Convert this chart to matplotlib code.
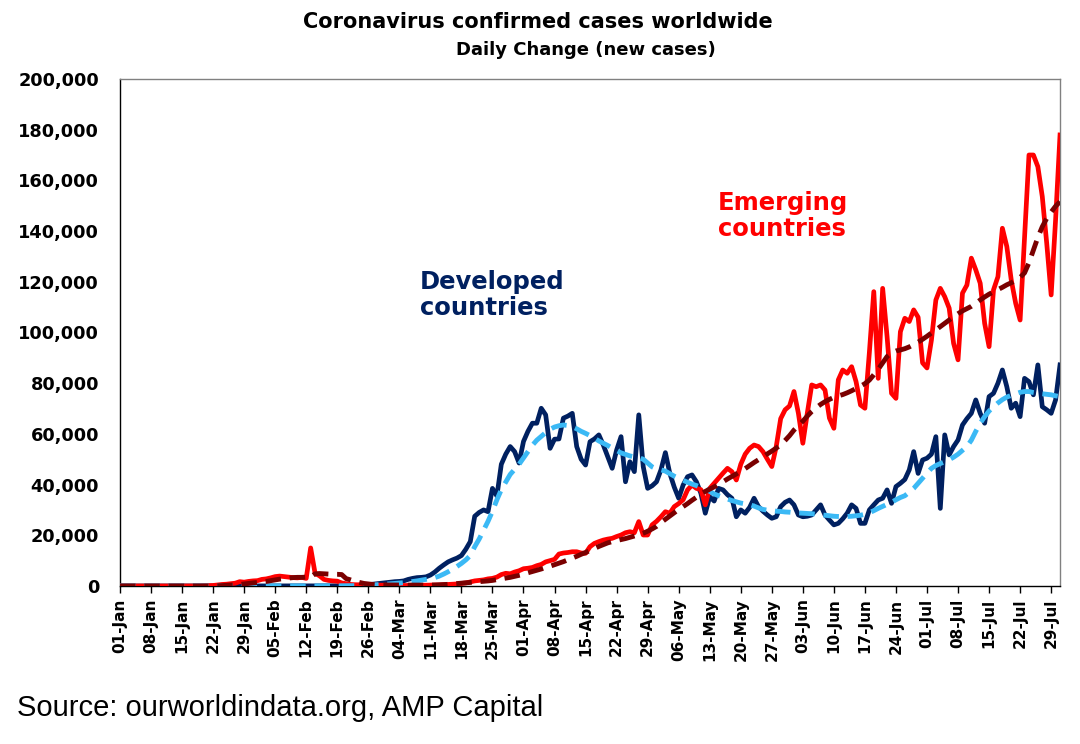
import matplotlib
matplotlib.use("Agg")
import matplotlib.pyplot as plt
import matplotlib.dates as mdates
from matplotlib.ticker import FuncFormatter
import pandas as pd

# daily values, 01-Jan-2020 .. 31-Jul-2020
dates = pd.date_range("2020-01-01", "2020-07-31", freq="D")
tick_dates = pd.date_range("2020-01-01", "2020-07-29", freq="7D")

developed = [
    # Jan
    0, 0, 0, 0, 0, 0, 0, 0, 0, 0, 0, 0, 0, 0, 0, 0, 0, 0, 0, 0,
    0, 0, 0, 0, 0, 0, 0, 0, 0, 0, 0,
    # Feb
    0, 0, 0, 0, 0, 10, 10, 10, 20, 20, 20, 30, 30, 30, 40, 40, 50, 60, 80, 100,
    100, 150, 200, 300, 400, 500, 700, 900, 1100,
    # Mar
    1300, 1500, 1700, 1800, 2000, 2600, 3000, 3300, 3400, 3600,
    4300, 5500, 7000, 8300, 9500, 10300, 11000, 12000, 14500, 17500,
    27500, 29000, 30000, 29300, 38500, 35500, 48000, 52000, 55000, 53000,
    48500,
    # Apr
    57000, 61000, 64200, 64200, 70100, 67500, 54300, 57900, 58000, 66200,
    67000, 68100, 55000, 50000, 47700, 56900, 58000, 59600, 55600, 51000,
    46400, 53600, 58900, 41100, 49000, 45100, 67500, 47100, 38500, 39500,
    # May
    41100, 45800, 52600, 44400, 39000, 34600, 39800, 43100, 43800, 41100,
    36600, 28700, 35200, 33500, 38500, 37900, 36000, 34600, 27300, 30000,
    28700, 31000, 34600, 31300, 29500, 28000, 26700, 27300, 31300, 33000,
    33900,
    # Jun
    32000, 28000, 27300, 27500, 28000, 30000, 32000, 28000, 26000, 24100,
    24700, 26500, 28700, 32000, 30600, 24700, 24700, 30000, 32000, 33900,
    34600, 37900, 32600, 39200, 40500, 42000, 45800, 53000, 44400, 49700,
    # Jul
    50400, 52000, 58900, 30600, 59600, 51700, 55000, 57600, 63500, 66000,
    68100, 73400, 68100, 64200, 74700, 76000, 80000, 85200, 78600, 70100,
    72100, 66800, 81900, 80600, 75400, 87200, 70700, 69500, 68100, 73400,
    87200,
]

developed_avg = [
    # Jan
    0, 0, 0, 0, 0, 0, 0, 0, 0, 0, 0, 0, 0, 0, 0, 0, 0, 0, 0, 0,
    0, 0, 0, 0, 0, 0, 0, 0, 0, 0, 0,
    # Feb
    0, 0, 0, 0, 0, 0, 10, 10, 10, 20, 20, 20, 30, 30, 30, 40, 40, 50, 60, 70,
    80, 100, 130, 170, 220, 290, 380, 480, 600,
    # Mar
    720, 850, 1000, 1150, 1300, 1500, 1750, 2000, 2300, 2600,
    2900, 3300, 3900, 4700, 5600, 6600, 7700, 8900, 10300, 12000,
    15500, 18500, 22000, 25500, 29500, 34000, 38000, 41000, 44000, 46000,
    48000,
    # Apr
    50500, 53000, 55500, 57500, 59000, 60500, 61800, 62700, 63200, 63500,
    63300, 62800, 62000, 61000, 60200, 59300, 58300, 57200, 56300, 55400,
    54400, 53400, 52500, 51900, 51300, 50900, 50600, 50000, 48500, 47000,
    # May
    46200, 45800, 45300, 44300, 43300, 42500, 41700, 40900, 40200, 39600,
    38900, 38300, 37300, 36300, 35600, 35000, 34300, 33700, 33200, 32700,
    32400, 32100, 31500, 30800, 30200, 29900, 29700, 29500, 29400, 29200,
    29100,
    # Jun
    28900, 28800, 28700, 28600, 28500, 28300, 28100, 27900, 27700, 27500,
    27400, 27300, 27400, 27500, 27700, 27900, 28300, 28900, 29700, 30600,
    31400, 32200, 33000, 34000, 34900, 35600, 37000, 38500, 40500, 42500,
    # Jul
    44500, 46400, 47500, 48300, 49000, 49800, 50800, 52000, 53500, 55000,
    57500, 61000, 64200, 66800, 69000, 70700, 72200, 73500, 74500, 75200,
    75800, 76400, 76700, 76700, 76300, 76000, 75800, 75600, 75400, 75000,
    74700,
]

emerging = [
    # Jan
    0, 0, 0, 0, 0, 0, 0, 0, 0, 0, 0, 0, 0, 0, 0, 0, 0, 0, 0, 100,
    150, 200, 400, 600, 700, 900, 1100, 1700, 1500, 1800, 2000,
    # Feb
    2100, 2600, 2800, 3200, 3700, 3900, 3700, 3500, 3300, 3200,
    3400, 3000, 15000, 5000, 4000, 2600, 2200, 2000, 1900, 1200,
    900, 600, 500, 450, 400, 450, 400, 350, 300,
    # Mar
    250, 220, 200, 200, 180, 200, 220, 250, 250, 300,
    350, 400, 400, 500, 600, 700, 800, 1000, 1200, 1600,
    2000, 2200, 2400, 2800, 3000, 3500, 4500, 5000, 4800, 5500,
    6000,
    # Apr
    6800, 7000, 7300, 8000, 8500, 9500, 10000, 10500, 12600, 13000,
    13200, 13500, 13500, 13000, 12900, 15500, 16800, 17500, 18100, 18500,
    18800, 19500, 20100, 21000, 21400, 21000, 25400, 20100, 20100, 24100,
    # May
    25500, 27300, 29300, 28700, 31300, 32500, 34000, 37900, 39800, 38500,
    38000, 32000, 38500, 40500, 42500, 44500, 46400, 45100, 41800, 48000,
    52000, 54300, 55600, 55000, 53000, 50000, 47100, 55000, 66000, 69500,
    71000,
    # Jun
    76700, 68100, 56300, 68100, 79300, 78600, 79300, 77300, 66200, 62200,
    81300, 85200, 83900, 86500, 80600, 71400, 70100, 92000, 116100, 81900,
    117400, 98300, 76000, 74000, 100300, 105600, 104300, 108900, 106000, 88000,
    # Jul
    86000, 97000, 112800, 117400, 114100, 109600, 95700, 89200, 115500, 118700,
    129300, 124700, 119400, 103600, 94400, 116800, 122000, 141100, 133900, 120700,
    111500, 104900, 137800, 170000, 170000, 165400, 153600, 135200, 114800, 144400,
    177900,
]

emerging_avg = [
    # Jan
    0, 0, 0, 0, 0, 0, 0, 0, 0, 0, 0, 0, 0, 0, 0, 0, 0, 0, 0, 0,
    0, 50, 100, 150, 250, 350, 450, 600, 800, 1000, 1200,
    # Feb
    1400, 1600, 1800, 2100, 2400, 2700, 2900, 3100, 3300, 3400,
    3400, 3500, 3500, 4800, 4900, 4800, 4700, 4600, 4600, 4500,
    2900, 2400, 1800, 1400, 1000, 800, 600, 500, 450,
    # Mar
    400, 380, 370, 360, 350, 340, 330, 320, 320, 330,
    350, 380, 450, 550, 650, 800, 950, 1100, 1250, 1400,
    1550, 1700, 1850, 2000, 2200, 2500, 2800, 3100, 3400, 3800,
    4200,
    # Apr
    4600, 5200, 5700, 6200, 6700, 7300, 7800, 8400, 9000, 9600,
    10300, 11000, 11700, 12500, 13200, 14000, 14800, 15600, 16300, 17000,
    17500, 17900, 18300, 18700, 19200, 19700, 20200, 20800, 21600, 22500,
    # May
    23500, 25000, 26300, 27600, 28900, 30200, 31300, 32500, 33800, 35000,
    36400, 37300, 38200, 39100, 40200, 41100, 42200, 43200, 44200, 45300,
    46300, 47500, 48700, 49800, 51000, 52100, 53200, 54400, 55600, 57400,
    59300,
    # Jun
    61500, 63300, 65000, 67000, 68800, 70300, 71600, 72700, 73600, 74400,
    75000, 75500, 76200, 77000, 77900, 78800, 79800, 81200, 83300, 85500,
    88000, 90500, 92000, 92700, 93100, 93600, 94300, 95200, 96200, 97300,
    # Jul
    98500, 99800, 101000, 102300, 103600, 104900, 106200, 107400, 108500, 109400,
    110300, 111500, 112800, 114000, 115100, 116000, 116900, 117800, 118800, 119600,
    120500, 121700, 123500, 127500, 132500, 137500, 141700, 145000, 147500, 149800,
    151600,
]

navy = "#002060"
sky = "#3BB9F5"
red = "#FF0000"
maroon = "#7A0000"

plt.rcParams["font.family"] = "DejaVu Sans"

fig = plt.figure(figsize=(10.8, 7.44), dpi=100)
ax = fig.add_axes([0.1111, 0.2124, 0.8704, 0.6815])

ax.plot(dates, developed, color=navy, lw=3.4, solid_joinstyle="round", zorder=3)
ax.plot(dates, emerging, color=red, lw=3.4, solid_joinstyle="round", zorder=4)
ax.plot(dates, developed_avg, color=sky, lw=3.5, dashes=(3.2, 1.8), zorder=5)
ax.plot(dates, emerging_avg, color=maroon, lw=3.5, dashes=(3.2, 1.8), zorder=6)

ax.set_xlim(dates[0], dates[-1])
ax.set_ylim(0, 200000)
ax.set_yticks(range(0, 200001, 20000))
ax.yaxis.set_major_formatter(FuncFormatter(lambda v, p: f"{int(v):,}"))
ax.tick_params(axis="y", length=0, pad=15, labelsize=12.8)
for lab in ax.get_yticklabels():
    lab.set_fontweight("bold")

ax.set_xticks(tick_dates)
ax.set_xticklabels([d.strftime("%d-%b") for d in tick_dates], rotation=90,
                   fontsize=11, fontweight="bold")
ax.tick_params(axis="x", length=5, width=1, pad=4, direction="out")

for side in ["left", "bottom"]:
    ax.spines[side].set_color("black")
    ax.spines[side].set_linewidth(1)
for side in ["top", "right"]:
    ax.spines[side].set_color("#808080")
    ax.spines[side].set_linewidth(1)

ax.text(0.319, 0.574, "Developed\ncountries", transform=ax.transAxes,
        color=navy, fontsize=17.5, fontweight="bold", ha="left", va="center",
        linespacing=1.1)
ax.text(0.636, 0.730, "Emerging\ncountries", transform=ax.transAxes,
        color=red, fontsize=17.5, fontweight="bold", ha="left", va="center",
        linespacing=1.1)

fig.text(0.4977, 0.970, "Coronavirus confirmed cases worldwide",
         fontsize=15, fontweight="bold", ha="center", va="center")
fig.text(0.5426, 0.933, "Daily Change (new cases)",
         fontsize=13, fontweight="bold", ha="center", va="center")
fig.text(0.016, 0.048, "Source: ourworldindata.org, AMP Capital",
         family="Liberation Sans", fontsize=21, ha="left", va="center")

fig.savefig("out.png", dpi=100)
